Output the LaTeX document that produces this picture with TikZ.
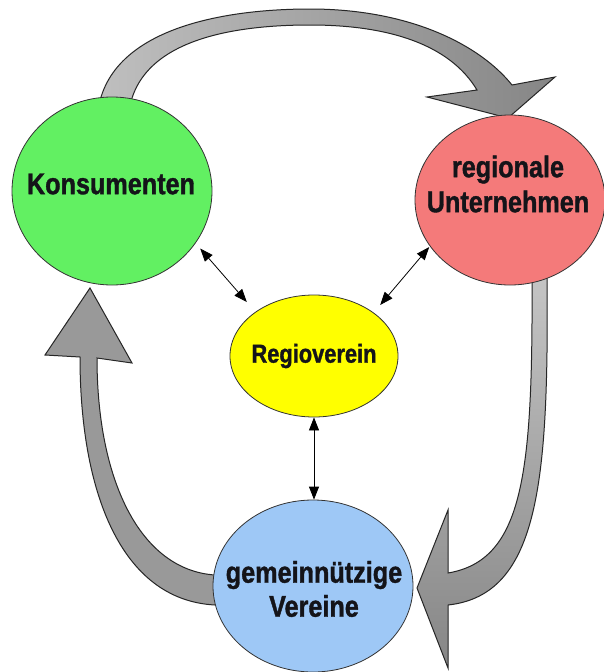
\documentclass[tikz,border=0pt]{standalone}
\usepackage{fontspec}
\newfontfamily\labfont{Liberation Sans}[FakeStretch=0.84,BoldFeatures={FakeBold=1.2}]
\usetikzlibrary{shapes.geometric,arrows.meta}
\definecolor{cgreen}{RGB}{98,240,98}
\definecolor{cred}{RGB}{244,122,122}
\definecolor{cyellow}{RGB}{255,255,0}
\definecolor{cblue}{RGB}{158,200,246}
\definecolor{ctext}{RGB}{20,20,25}
\begin{document}
\begin{tikzpicture}[x=1pt,y=-1pt,
  blob/.style={ellipse,draw=black!80,line width=0.8pt,inner sep=0pt},
  lab/.style={font=\labfont\bfseries\fontsize{30}{35}\selectfont,align=center,text=ctext,inner sep=0pt},
  link/.style={{Triangle[length=13pt,width=10pt]}-{Triangle[length=13pt,width=10pt]},line width=0.8pt},
  bigarrow/.style={draw=black!85,line width=1pt}]
\useasboundingbox (0,0) rectangle (604,672);
\fill[white] (0,0) rectangle (604,672);

% big gray arrows
\shadedraw[bigarrow,left color=gray!50,right color=gray!95]
  (97,125) .. controls (97,30) and (220,9) .. (310,9)
  .. controls (410,9) and (480,45) .. (512,85)
  -- (555,77) -- (508,118) -- (427,97) -- (477,90)
  .. controls (450,45) and (390,25) .. (310,25)
  .. controls (220,25) and (128,45) .. (128,125) -- cycle;

\filldraw[bigarrow,fill=gray!80]
  (225,605) -- (215,605) .. controls (120,600) and (80,490) .. (80,357)
  -- (45,355) -- (90,288) -- (132,363) -- (97,358)
  .. controls (97,480) and (140,570) .. (215,575) -- (225,575) -- cycle;

\shadedraw[bigarrow,top color=gray!45,bottom color=gray!95]
  (532,270) -- (547,270) .. controls (549,480) and (540,595) .. (448,605)
  -- (448,668) -- (417,588) -- (448,510) -- (448,573)
  .. controls (525,560) and (533,470) .. (532,270) -- cycle;

% ellipses
\node[blob,fill=cgreen,minimum width=200pt,minimum height=188pt] (kons) at (112,191) {};
\node[blob,fill=cred,minimum width=190pt,minimum height=170pt] (unt) at (510,200) {};
\node[blob,fill=cyellow,minimum width=168pt,minimum height=122pt] (regio) at (314,356) {};
\node[blob,fill=cblue,minimum width=200pt,minimum height=172pt] (ver) at (313,586) {};

% labels
\node[lab] (konsT) at (111,184) {Konsumenten};
\node[lab] (untT) at (508,184) {regionale\\Unternehmen};
\node[lab,font=\labfont\bfseries\fontsize{26}{30}\selectfont] (regioT) at (314,356) {Regioverein};
\node[lab,font=\labfont\bfseries\fontsize{30}{34}\selectfont] (verT) at (314,589) {gemeinnützige\\Vereine};

% thin double arrows
\draw[link,shorten <=7pt,shorten >=13pt] (kons.-32) -- (regio.143);
\draw[link,shorten <=1pt,shorten >=10pt] (unt.210) -- (regio.36);
\draw[link] (regio.south) -- (regio.south |- ver.north);
\end{tikzpicture}
\end{document}
